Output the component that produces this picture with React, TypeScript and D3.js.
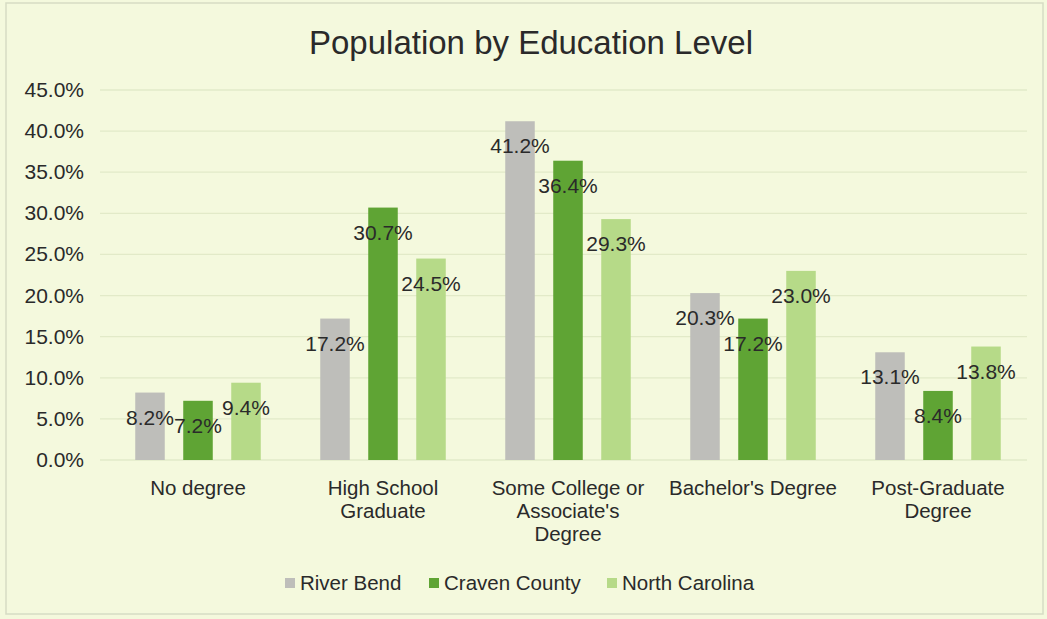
import React from "react";
import * as d3 from "d3";

const categories = [
  ["No degree"],
  ["High School", "Graduate"],
  ["Some College or", "Associate's", "Degree"],
  ["Bachelor's Degree"],
  ["Post-Graduate", "Degree"],
];
const seriesNames = ["River Bend", "Craven County", "North Carolina"];
const riverBend = [8.2, 17.2, 41.2, 20.3, 13.1];
const cravenCounty = [7.2, 30.7, 36.4, 17.2, 8.4];
const northCarolina = [9.4, 24.5, 29.3, 23.0, 13.8];
const yTicks = [0, 5, 10, 15, 20, 25, 30, 35, 40, 45];

const seriesValues = [riverBend, cravenCounty, northCarolina];
const colors = ["#BEBEBA", "#5FA434", "#B6DA88"];

const W = 1047;
const H = 619;
const FONT = "'Liberation Sans', Arial, sans-serif";
const TEXT = "#2a2a2a";

export default function App() {
  const catKeys = categories.map((c) => c.join(" "));
  const x0 = d3.scaleBand<string>().domain(catKeys).range([105.5, 1030.5]).padding(0);
  const bw = x0.bandwidth();
  const x1 = d3
    .scaleBand<string>()
    .domain(seriesNames)
    .range([bw / 2 - 72, bw / 2 + 72])
    .paddingInner(0.385)
    .paddingOuter(0.1925);
  const y = d3.scaleLinear().domain([0, 45]).range([460, 90]);

  return (
    <svg
      width={W}
      height={H}
      style={{ position: "absolute", left: 0, top: 0, display: "block" }}
      fontFamily={FONT}
    >
      <rect x={0} y={0} width={W} height={H} fill="#F4F9DD" />
      <rect x={6} y={3} width={W - 10} height={H - 8} fill="none" stroke="#D6DCC4" strokeWidth={1.5} />

      <text x={531} y={54} textAnchor="middle" fontSize={33} fill={TEXT}>
        Population by Education Level
      </text>

      {yTicks.map((t) => (
        <g key={t}>
          <line x1={100} x2={1027} y1={y(t)} y2={y(t)} stroke="#E2EAC8" strokeWidth={1.3} />
          <text x={84} y={y(t) + 7} textAnchor="end" fontSize={21} fill={TEXT}>
            {t.toFixed(1) + "%"}
          </text>
        </g>
      ))}

      {catKeys.map((ck, i) => (
        <g key={ck} transform={`translate(${x0(ck)},0)`}>
          {seriesNames.map((s, j) => {
            const v = seriesValues[j][i];
            const bx = x1(s)!;
            return (
              <rect key={s} x={bx} y={y(v)} width={x1.bandwidth()} height={y(0) - y(v)} fill={colors[j]} />
            );
          })}
          {seriesNames.map((s, j) => {
            const v = seriesValues[j][i];
            const bx = x1(s)! + x1.bandwidth() / 2;
            return (
              <text key={s} x={bx} y={y(v) + 32} textAnchor="middle" fontSize={21} fill={TEXT}>
                {v.toFixed(1) + "%"}
              </text>
            );
          })}
          {categories[i].map((line, k) => (
            <text key={k} x={bw / 2} y={495 + k * 23} textAnchor="middle" fontSize={20.5} fill={TEXT}>
              {line}
            </text>
          ))}
        </g>
      ))}

      {seriesNames.map((s, j) => {
        const lx = [285, 429, 607][j];
        return (
          <g key={s}>
            <rect x={lx} y={578} width={10} height={10} fill={colors[j]} />
            <text x={lx + 15} y={590} fontSize={20.5} fill={TEXT}>
              {s}
            </text>
          </g>
        );
      })}
    </svg>
  );
}
